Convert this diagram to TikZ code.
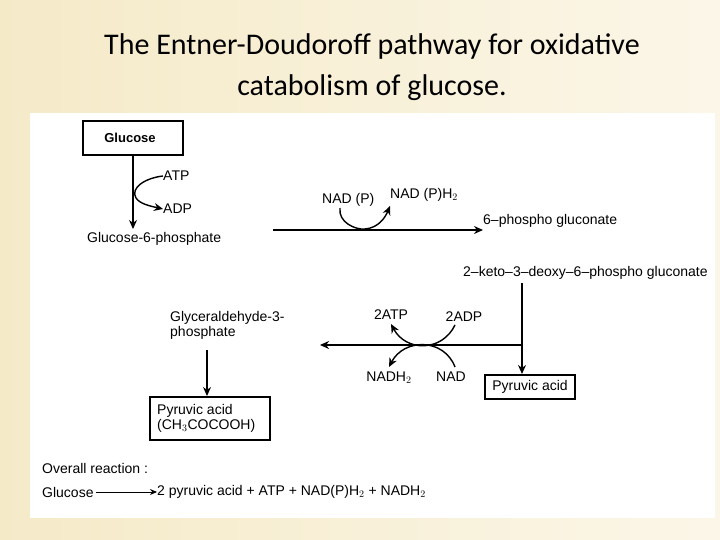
\documentclass[tikz,border=0pt]{standalone}
\usepackage{fontspec}
\setmainfont{Liberation Sans}
\newfontfamily\titlefont{Carlito}
\usetikzlibrary{arrows.meta}
\definecolor{bgl}{HTML}{F5EAC8}
\definecolor{bgr}{HTML}{FBF6E8}
\begin{document}
\begin{tikzpicture}[x=1pt,y=-1pt,
  lbl/.style={font=\fontsize{14}{15}\selectfont,inner sep=0pt},
  bx/.style={draw,line width=1.8pt,inner sep=0pt},
  ar/.style={line width=1.4pt,-{Stealth[length=9pt,width=8pt]}},
  ln/.style={line width=1.4pt}]
\useasboundingbox (0,0) rectangle (720,540);
\shade[left color=bgl,right color=bgr] (0,0) rectangle (720,540);
\fill[white] (30,113) rectangle (715,518);
\node[font=\titlefont\fontsize{30}{41}\selectfont,align=center] (title) at (372,67) {The Entner-Doudoroff pathway for oxidative\\catabolism of glucose.};
% Glucose
\draw[bx] (83,121) rectangle (183,155);
\node[lbl,font=\fontsize{13}{14}\selectfont\bfseries] (glc) at (130,138) {Glucose};
\coordinate (glcb) at (133,155);
\node[lbl,anchor=west] (g6p) at (87,239) {Glucose-6-phosphate};
\draw[ar] (glcb) -- (133,229);
\node[lbl,anchor=west] (atp) at (163,176) {ATP};
\node[lbl,anchor=west] (adp) at (163,209) {ADP};
\draw[ln] (atp.west) .. controls (145,178) and (130,188) .. (136,198);
\draw[ar] (136,198) .. controls (140,204) and (150,206) .. (adp.west);
% top horizontal
\node[lbl,anchor=west] (pg) at (483,221) {6–phospho gluconate};
\draw[ar] (273,230) -- (pg.west |- 0,230);
\node[lbl,anchor=west] (nadp) at (322,200) {NAD (P)};
\node[lbl,anchor=west] (nadph) at (390,195) {NAD (P)H$_2$};
\draw[ln] (340,208) .. controls (338,222) and (355,230) .. (365,229);
\draw[ar] (365,229) .. controls (378,228) and (385,218) .. (390,206);
% kdpg
\node[lbl,anchor=west] (kdpg) at (463,273) {2–keto–3–deoxy–6–phospho gluconate};
\draw[bx] (485,375) rectangle (575,399);
\node[lbl] (pyr1) at (530,387) {Pyruvic acid};
\coordinate (j) at (522,345);
\draw[ar] (522,283) -- (522,374);
\draw[ar] (j) -- (320,345);
\node[lbl] (atp2) at (391,315) {2ATP};
\node[lbl] (adp2) at (464,317) {2ADP};
\node[lbl] (nadh) at (389,378) {NADH$_2$};
\node[lbl] (nad) at (451,377) {NAD};
\draw[ar] (455,325) .. controls (442,352) and (406,352) .. (391,324);
\draw[ar] (455,367) .. controls (444,338) and (404,338) .. (389,367);
% left branch
\node[lbl,anchor=west,align=left] (gap) at (170,325) {Glyceraldehyde-3-\\phosphate};
\draw[ar] (207,350) -- (207,396);
\draw[bx] (150,397) rectangle (270,440);
\node[lbl,align=left,anchor=west] (pyr2) at (157,418) {Pyruvic acid\\(CH$_3$COCOOH)};
% overall
\node[lbl,anchor=west] (ov) at (42,468) {Overall reaction :};
\node[lbl,anchor=west] (g2) at (42,492) {Glucose};
\node[lbl,anchor=west] (prod) at (157,492) {2 pyruvic acid + ATP + NAD(P)H$_2$ + NADH$_2$};
\draw[line width=0.9pt,-{Stealth[length=7pt,width=6pt]}] (g2.east) ++(2,0) -- (prod.west);
\end{tikzpicture}
\end{document}
